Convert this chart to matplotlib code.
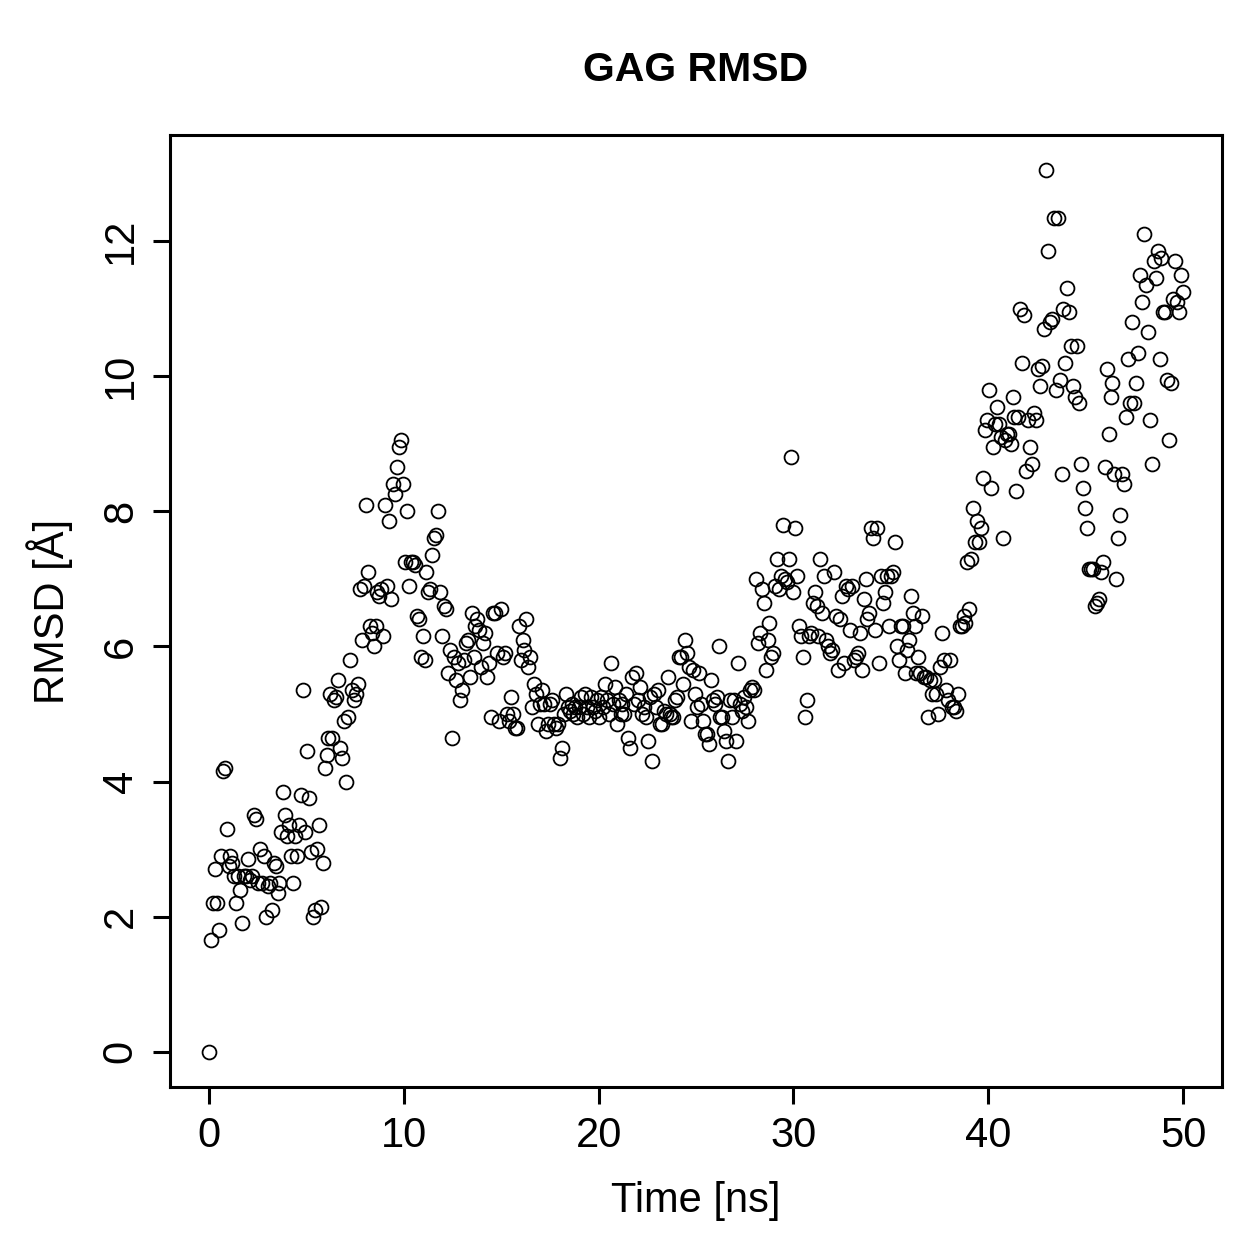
import matplotlib
matplotlib.use("Agg")
import matplotlib.pyplot as plt
import numpy as np

plt.rcParams['font.family'] = ['Liberation Sans', 'DejaVu Sans']

# RMSD values, one frame per ~0.1 ns
rmsd_start = [0.0, 1.65, 2.2, 2.7, 2.2, 1.8, 2.9, 4.15, 4.2, 3.3,
              2.75, 2.9, 2.8, 2.6, 2.2, 2.6, 2.4, 1.9, 2.6, 2.6,
              2.85, 2.55, 2.6, 3.5, 3.45, 2.5, 3.0, 2.5, 2.9, 2.0,
              2.45, 2.5, 2.1, 2.8, 2.75, 2.35, 2.5, 3.25, 3.85, 3.5,
              3.2, 3.35, 2.9, 2.5, 3.2, 2.9, 3.35, 3.8, 5.35, 3.25,
              4.45, 3.75, 2.95, 2.0, 2.1, 3.0, 3.35, 2.15, 2.8, 4.2,
              4.4, 4.65, 5.3, 4.65, 5.2, 5.25, 5.5, 4.5, 4.35, 4.9,
              4.0, 4.95, 5.8, 5.35, 5.2, 5.3, 5.45, 6.85, 6.1, 6.9,
              8.1, 7.1, 6.3, 6.2, 6.0, 6.3, 6.8, 6.75, 6.85, 6.15,
              8.1, 6.9, 7.85, 6.7, 8.4, 8.25, 8.65, 8.95, 9.05, 8.4,
              7.25, 8.0, 6.9, 7.25, 7.25, 7.2, 6.45, 6.4, 5.85, 6.15,
              5.8, 7.1, 6.8, 6.85, 7.35, 7.6, 7.65, 8.0, 6.8, 6.15,
              6.6, 6.55, 5.6, 5.95, 4.65, 5.85, 5.5, 5.75, 5.2, 5.35,
              5.8, 6.05, 6.1, 5.55, 6.5, 5.85, 6.3, 6.4, 6.25, 5.7,
              6.05, 6.2, 5.55, 5.75, 4.95, 6.5, 6.5, 5.9, 4.9, 6.55,
              5.85, 5.9, 5.0, 4.9, 5.25, 5.0, 4.8, 4.8, 6.3, 5.8,
              6.1, 5.95, 6.4, 5.7, 5.85, 5.1, 5.45, 5.3, 4.85, 5.15,
              5.35, 5.15, 4.75, 4.85, 5.15, 5.2, 4.85, 4.8, 4.85, 4.35,
              4.5, 5.0, 5.3, 5.1, 5.05, 5.15, 5.0, 5.1, 4.95, 5.1,
              5.25, 5.0, 5.3, 5.1, 4.95, 5.25, 5.1, 5.05, 5.2, 4.95,
              5.25, 5.1, 5.45, 5.2, 5.0, 5.75, 5.15, 5.4, 4.85, 5.2,
              5.0, 5.15, 5.0, 5.3, 4.65, 4.5, 5.55, 5.15, 5.6, 5.2,
              5.4, 5.0, 5.1, 4.95, 4.6, 5.25, 4.3, 5.3, 5.1, 5.35,
              4.85, 4.85, 5.05, 5.0, 5.55, 5.0, 4.95, 4.95, 5.2, 5.25,
              5.85, 5.85, 5.45, 6.1, 5.9, 5.7, 4.9, 5.65, 5.3, 5.1]

rmsd_middle = [5.6, 5.15, 4.9, 4.7, 4.7, 4.55, 5.5, 5.2, 5.15,
               5.25, 6.0, 4.95, 4.95, 4.75, 4.6, 4.3, 5.2, 4.95, 5.2,
               4.6, 5.75, 5.15, 5.05, 5.25, 5.1, 4.9, 5.35, 5.4, 5.35,
               7.0, 6.05, 6.2, 6.85, 6.65, 5.65, 6.1, 6.35, 5.85, 5.9,
               6.9, 7.3, 6.85, 7.05, 7.8, 7.0, 6.95, 7.3, 8.8, 6.8,
               7.75, 7.05, 6.3, 6.15, 5.85, 4.95, 5.2, 6.15, 6.2, 6.65,
               6.8, 6.6, 6.15, 7.3, 6.5, 7.05, 6.1, 6.0, 5.9, 5.95,
               7.1, 6.45, 5.65, 6.4, 6.75, 5.75, 6.9, 6.85, 6.25, 6.9,
               5.8, 5.85, 5.9, 6.2, 5.65, 6.7, 7.0, 6.4, 6.5, 7.75,
               7.6, 6.25, 7.75, 5.75, 7.05, 6.65, 6.8, 7.05, 6.3, 7.05,
               7.1, 7.55, 6.0, 5.8, 6.3, 6.3, 5.6, 5.95, 6.1, 6.75,
               6.5, 6.3, 5.6, 5.85, 5.6, 6.45, 5.55, 5.55, 4.95, 5.5,
               5.3, 5.5, 5.3, 5.0, 5.7, 6.2, 5.8, 5.35, 5.2, 5.8,
               5.1, 5.1, 5.05, 5.3, 6.3, 6.3, 6.45, 6.35, 7.25, 6.55,
               7.3, 8.05, 7.55, 7.85, 7.55, 7.75, 8.5, 9.2, 9.35, 9.8,
               8.35, 8.95, 9.3, 9.55, 9.3, 9.1, 7.6, 9.05, 9.15, 9.15,
               9.0, 9.7, 9.4, 8.3]

rmsd_end = [9.4, 11.0, 10.2, 10.9, 8.6, 9.35, 8.95, 8.7, 9.45, 9.35,
            10.1, 9.85, 10.15, 10.7, 13.05, 11.85, 10.8, 10.85, 12.35, 9.8,
            12.35, 9.95, 8.55, 11.0, 10.2, 11.3, 10.95, 10.45, 9.85, 9.7,
            10.45, 9.6, 8.7, 8.35, 8.05, 7.75, 7.15, 7.15, 7.15, 6.6,
            6.65, 6.7, 7.1, 7.25, 8.65, 10.1, 9.15, 9.7, 9.9, 8.55,
            7.0, 7.6, 7.95, 8.55, 8.4, 9.4, 10.25, 9.6, 10.8, 9.6,
            9.9, 10.35, 11.5, 11.1, 12.1, 11.35, 10.65, 9.35, 8.7, 11.7,
            11.45, 11.85, 10.25, 11.75, 10.95, 10.95, 9.95, 9.05, 9.9, 11.15,
            11.7, 11.1, 10.95, 11.5, 11.25]

rmsd = np.array(rmsd_start + rmsd_middle + rmsd_end)
time_ns = np.linspace(0, 50, len(rmsd))

fig = plt.figure(figsize=(12.59, 12.59), dpi=100)
ax = fig.add_axes([0.135, 0.1366, 0.8356, 0.7562])

ax.plot(time_ns, rmsd, 'o', mfc='none', mec='black', ms=10, mew=1.3)

# R-style 4% padding
xr = time_ns.max() - time_ns.min()
yr = rmsd.max() - rmsd.min()
ax.set_xlim(time_ns.min() - 0.04 * xr, time_ns.max() + 0.04 * xr)
ax.set_ylim(rmsd.min() - 0.04 * yr, rmsd.max() + 0.04 * yr)

ax.set_xticks([0, 10, 20, 30, 40, 50])
ax.set_yticks([0, 2, 4, 6, 8, 10, 12])
ax.tick_params(direction='out', length=12, width=2.2, labelsize=30, pad=9)
for lab in ax.get_yticklabels():
    lab.set_rotation(90)
    lab.set_va('center')

for s in ax.spines.values():
    s.set_linewidth(2.2)

ax.set_xlabel('Time [ns]', fontsize=30, labelpad=18)
ax.set_ylabel('RMSD [Å]', fontsize=30, labelpad=20)
ax.set_title('GAG RMSD', fontsize=29.5, fontweight='bold', pad=39)

fig.savefig('out.png', dpi=100)
